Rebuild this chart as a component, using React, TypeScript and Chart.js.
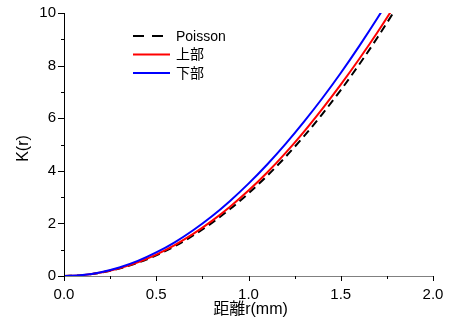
import React, { useEffect, useRef } from "react";
import { Chart, registerables } from "chart.js";

Chart.register(...registerables);

const rValues = [0, 0.1, 0.2, 0.3, 0.4, 0.5, 0.6, 0.7, 0.8, 0.9, 1.0, 1.1, 1.2, 1.3, 1.4, 1.5, 1.6, 1.7, 1.8, 1.9];
const poisson = [0, 0.031, 0.126, 0.283, 0.503, 0.785, 1.131, 1.539, 2.011, 2.545, 3.142, 3.801, 4.524, 5.309, 6.158, 7.069, 8.042, 9.079, 10.179, 11.34];
const upper = [0, 0.033, 0.132, 0.295, 0.523, 0.815, 1.176, 1.599, 2.086, 2.635, 3.247, 3.926, 4.674, 5.484, 6.358, 7.279, 8.252, 9.279, 10.369, 11.52];
const lower = [0, 0.036, 0.144, 0.323, 0.573, 0.895, 1.281, 1.739, 2.261, 2.855, 3.512, 4.231, 5.014, 5.859, 6.758, 7.719, 8.742, 9.819, 10.959, 12.16];
const seriesNames = ["Poisson", "上部", "下部"];
const xTickLabels = ["0.0", "0.5", "1.0", "1.5", "2.0"];
const yTickLabels = ["0", "2", "4", "6", "8", "10"];
const xTitle = "距離r(mm)";
const yTitle = "K(r)";

const FONT = "'Liberation Sans', Arial, 'Noto Sans CJK JP', sans-serif";

export default function App() {
  const ref = useRef<HTMLCanvasElement | null>(null);
  useEffect(() => {
    document.body.style.margin = "0";
    const toPts = (ys: number[]) => rValues.map((x, i) => ({ x, y: ys[i] }));
    const colors = ["#000000", "#ff0000", "#0000ff"];

    const decor = {
      id: "decor",
      afterDraw(chart: any) {
        const ctx = chart.ctx;
        const xs = chart.scales.x;
        const ys = chart.scales.y;
        const ca = chart.chartArea;
        ctx.save();
        ctx.lineWidth = 1;
        ctx.strokeStyle = "#000";
        ctx.beginPath();
        ctx.moveTo(ca.left + 0.5, ca.top);
        ctx.lineTo(ca.left + 0.5, ca.bottom);
        ctx.stroke();
        ctx.strokeStyle = "#808080";
        ctx.beginPath();
        ctx.moveTo(ca.left, ca.bottom + 0.5);
        ctx.lineTo(ca.right, ca.bottom + 0.5);
        ctx.stroke();
        ctx.strokeStyle = "#000";
        for (let v = 0; v <= 10; v += 1) {
          const py = Math.round(ys.getPixelForValue(v)) + 0.5;
          const len = v % 2 === 0 ? 6 : 3;
          ctx.beginPath();
          ctx.moveTo(ca.left - len, py);
          ctx.lineTo(ca.left, py);
          ctx.stroke();
        }
        for (let k = 0; k <= 8; k++) {
          const v = k * 0.25;
          const px = Math.round(xs.getPixelForValue(v)) + 0.5;
          const len = k % 2 === 0 ? 5 : 3;
          ctx.beginPath();
          ctx.moveTo(px, ca.bottom);
          ctx.lineTo(px, ca.bottom + len);
          ctx.stroke();
        }
        ctx.fillStyle = "#000";
        ctx.font = `15px ${FONT}`;
        ctx.textAlign = "right";
        ctx.textBaseline = "middle";
        yTickLabels.forEach((t) => {
          ctx.fillText(t, ca.left - 8, ys.getPixelForValue(parseFloat(t)));
        });
        ctx.textAlign = "center";
        ctx.textBaseline = "top";
        xTickLabels.forEach((t) => {
          ctx.fillText(t, xs.getPixelForValue(parseFloat(t)), ca.bottom + 11);
        });
        ctx.font = `16px ${FONT}`;
        ctx.textBaseline = "middle";
        ctx.fillText(xTitle, (ca.left + ca.right) / 2 + 2, ca.bottom + 34);
        ctx.save();
        ctx.translate(24, (ca.top + ca.bottom) / 2 + 4);
        ctx.rotate(-Math.PI / 2);
        ctx.fillText(yTitle, 0, 0);
        ctx.restore();
        ctx.font = `14px ${FONT}`;
        ctx.textAlign = "left";
        seriesNames.forEach((name, i) => {
          const ly = ca.top + 23 + i * 18.5;
          ctx.strokeStyle = colors[i];
          ctx.lineWidth = 2;
          ctx.setLineDash(i === 0 ? [11, 8] : []);
          ctx.beginPath();
          ctx.moveTo(133, ly);
          ctx.lineTo(170, ly);
          ctx.stroke();
          ctx.setLineDash([]);
          ctx.fillStyle = "#000";
          ctx.fillText(name, 176, ly + 1);
        });
        ctx.restore();
      },
    };

    const common = { borderWidth: 2, pointRadius: 0, cubicInterpolationMode: "monotone", fill: false };
    const chart = new Chart(ref.current as HTMLCanvasElement, {
      type: "line",
      data: {
        datasets: [
          { ...common, label: seriesNames[2], data: toPts(lower), borderColor: colors[2] },
          { ...common, label: seriesNames[1], data: toPts(upper), borderColor: colors[1] },
          { ...common, label: seriesNames[0], data: toPts(poisson), borderColor: colors[0], borderDash: [8, 5] },
        ],
      },
      options: {
        animation: false,
        responsive: false,
        layout: { padding: { left: 0, right: 17, top: 13, bottom: 0 } },
        plugins: { legend: { display: false }, tooltip: { enabled: false } },
        scales: {
          x: {
            type: "linear",
            min: 0,
            max: 2,
            grid: { display: false },
            border: { display: false },
            ticks: { display: false },
            afterFit: (s: any) => { s.height = 48; },
          },
          y: {
            min: 0,
            max: 10,
            grid: { display: false },
            border: { display: false },
            ticks: { display: false },
            afterFit: (s: any) => { s.width = 64; },
          },
        },
      },
      plugins: [decor],
    } as any);
    return () => chart.destroy();
  }, []);
  return (
    <div style={{ width: 450, height: 324 }}>
      <canvas ref={ref} width={450} height={324} style={{ width: 450, height: 324, display: "block" }} />
    </div>
  );
}
